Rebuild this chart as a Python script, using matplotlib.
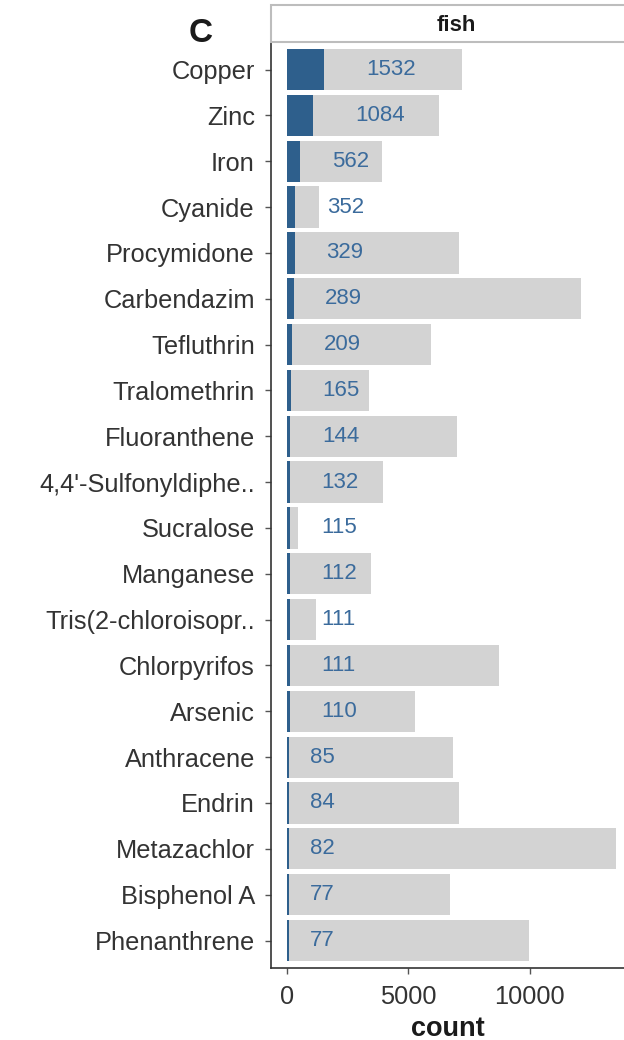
import numpy as np
import matplotlib
matplotlib.use("Agg")
import matplotlib.pyplot as plt
from matplotlib.patches import Rectangle

# data
chemicals = ["Copper", "Zinc", "Iron", "Cyanide", "Procymidone", "Carbendazim",
             "Tefluthrin", "Tralomethrin", "Fluoranthene", "4,4'-Sulfonyldiphe..",
             "Sucralose", "Manganese", "Tris(2-chloroisopr..", "Chlorpyrifos",
             "Arsenic", "Anthracene", "Endrin", "Metazachlor", "Bisphenol A",
             "Phenanthrene"]
fish_count = [1532, 1084, 562, 352, 329, 289, 209, 165, 144, 132,
              115, 112, 111, 111, 110, 85, 84, 82, 77, 77]
total_count = [7230, 6270, 3930, 1320, 7090, 12120, 5920, 3380, 6990, 3960,
               440, 3460, 1200, 8720, 5260, 6830, 7090, 13560, 6730, 9960]
x_ticks = [0, 5000, 10000]

GRIJS = "#d3d3d3"
BLAUW = "#2e5f8c"
LABEL_BLAUW = "#3b6b9c"
TEKST = "#333333"

plt.rcParams["font.family"] = ["Liberation Sans", "DejaVu Sans"]

fig = plt.figure(figsize=(6.24, 10.4), dpi=100)
ax = fig.add_axes([0.434, 0.0692, 0.566, 0.8904])

y = np.arange(len(chemicals))
ax.barh(y, total_count, height=0.9, color=GRIJS, zorder=1)
ax.barh(y, fish_count, height=0.9, color=BLAUW, zorder=2)

# labels verschoven met ongeveer hun eigen breedte (zoals hjust = -1)
label_fs = 16
for yi, n in zip(y, fish_count):
    s = str(n)
    offset = 0.85 * len(s) * 0.556 * label_fs
    ax.annotate(s, xy=(n, yi), xytext=(offset, 0), textcoords="offset points",
                ha="left", va="center", fontsize=label_fs, color=LABEL_BLAUW, zorder=3)

ax.set_ylim(len(chemicals) - 0.4, -0.6)
ax.set_xlim(-660, 13890)
ax.set_yticks(y)
ax.set_yticklabels(chemicals)
ax.set_xticks(x_ticks)
ax.set_xticklabels([str(t) for t in x_ticks])
ax.tick_params(axis="both", labelsize=18.3, labelcolor=TEKST, color="#555555",
               length=4.5, width=1.0, direction="out")
ax.tick_params(axis="y", pad=7)
ax.tick_params(axis="x", pad=7.5)
ax.set_xlabel("count", fontsize=19.5, fontweight="bold", color="#1a1a1a", labelpad=5)

for kant in ["top", "right"]:
    ax.spines[kant].set_visible(False)
for kant in ["left", "bottom"]:
    ax.spines[kant].set_color("#333333")
    ax.spines[kant].set_linewidth(1.2)

# facet strip bovenaan
strip = fig.add_axes([0.434, 0.9596, 0.566, 0.0356])
strip.set_xlim(0, 1)
strip.set_ylim(0, 1)
strip.axis("off")
strip.add_patch(Rectangle((0, 0), 1.2, 1, transform=strip.transAxes, facecolor="white",
                          edgecolor="#bdbdbd", linewidth=1.5, clip_on=False))
strip.text(0.524, 0.45, "fish", ha="center", va="center", fontsize=16,
           fontweight="bold", color="#1a1a1a")

fig.text(0.322, 0.968, "C", ha="center", va="center", fontsize=24,
         fontweight="bold", color="#1a1a1a")

fig.savefig("out.png", dpi=100)
